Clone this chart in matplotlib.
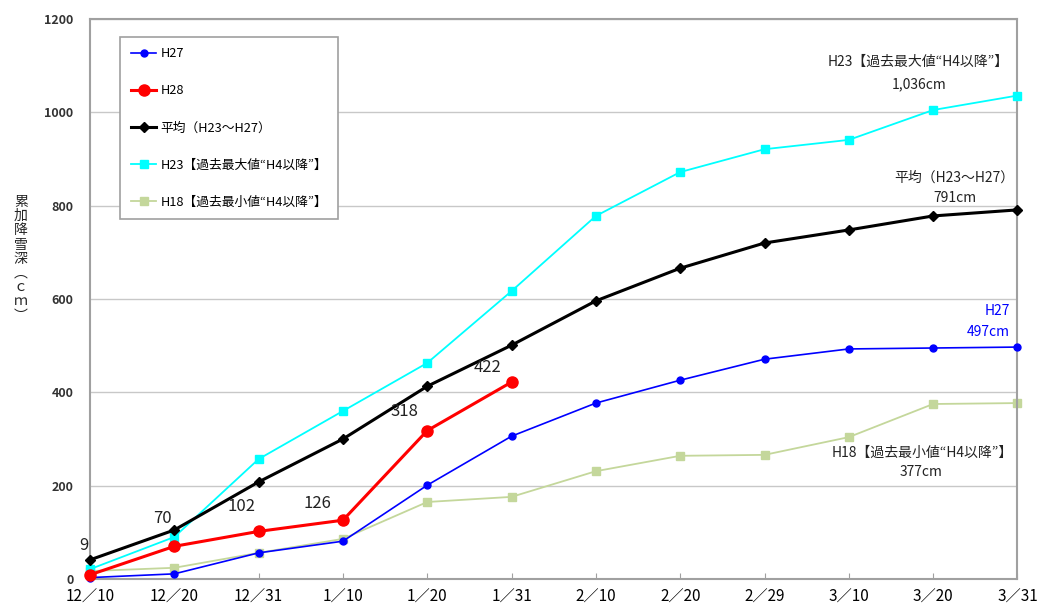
import numpy as np
import matplotlib
matplotlib.use("Agg")
import matplotlib.pyplot as plt

plt.rcParams['font.family'] = ['Noto Sans CJK JP', 'DejaVu Sans']

# 日付（カテゴリ）
dates = ['12／10', '12／20', '12／31', '1／10', '1／20', '1／31',
         '2／10', '2／20', '2／29', '3／10', '3／20', '3／31']

# 累加降雪深 (cm)
h27 = [3, 11, 56, 81, 201, 306, 377, 426, 471, 493, 495, 497]
h28 = [9, 70, 102, 126, 318, 422]
avg = [41, 105, 208, 300, 413, 501, 596, 666, 720, 748, 778, 791]
h23 = [21, 90, 257, 360, 463, 617, 778, 872, 921, 941, 1005, 1036]
h18 = [17, 24, 56, 86, 165, 176, 231, 264, 266, 304, 375, 377]

x = np.arange(len(dates))

fig = plt.figure(figsize=(10.38, 6.04), dpi=100)
ax = fig.add_axes([0.0867, 0.0414, 0.8935, 0.9271])

ax.plot(x, h27, color='#0000FF', lw=1.2, marker='o', ms=5, label='H27', clip_on=False, zorder=4)
ax.plot(x[:len(h28)], h28, color='#FF0000', lw=2.2, marker='o', ms=8, label='H28', clip_on=False, zorder=6)
ax.plot(x, avg, color='black', lw=2.2, marker='D', ms=5, label='平均（H23～H27）', clip_on=False, zorder=5)
ax.plot(x, h23, color='#00FFFF', lw=1.3, marker='s', ms=6, label='H23【過去最大値“H4以降”】', clip_on=False, zorder=3)
ax.plot(x, h18, color='#C4D79B', lw=1.3, marker='s', ms=6, label='H18【過去最小値“H4以降”】', clip_on=False, zorder=2)

# H28 の値ラベル
offsets = [(-6, 29), (-12, 28), (-17, 25), (-25, 17), (-23, 19), (-24, 15)]
for i, v in enumerate(h28):
    ax.annotate(str(v), (x[i], v), xytext=offsets[i], textcoords='offset pixels',
                ha='center', va='center', fontsize=12, color='#222222', zorder=7)

# 右側の注記
note = dict(ha='center', va='center', fontsize=10, color='#222222')
ax.text(9.82, 1108, 'H23【過去最大値“H4以降”】', **note)
ax.text(9.83, 1061, '1,036cm', **note)
ax.text(10.25, 861, '平均（H23～H27）', **note)
ax.text(10.26, 816, '791cm', **note)
ax.text(10.91, 574, 'H27', ha='right', va='center', fontsize=10, color='#0000FF')
ax.text(10.91, 529, '497cm', ha='right', va='center', fontsize=10, color='#0000FF')
ax.text(9.87, 270, 'H18【過去最小値“H4以降”】', **note)
ax.text(9.86, 229, '377cm', **note)

ax.set_xlim(0, 11)
ax.set_ylim(0, 1200)
ax.set_yticks(range(0, 1201, 200))
ax.set_xticks(x)
ax.set_xticklabels(dates, fontsize=11)
ax.tick_params(axis='x', direction='in', length=4, color='#A0A0A0', pad=7)
ax.tick_params(axis='y', length=0, pad=12, labelsize=9)
for lab in ax.get_yticklabels():
    lab.set_fontweight('bold')
    lab.set_color('#333333')
ax.grid(axis='y', color='#C8C8C8', lw=1)
ax.set_axisbelow(True)
for s in ax.spines.values():
    s.set_color('#A0A0A0')
    s.set_linewidth(1.5)

leg = ax.legend(loc='upper left', bbox_to_anchor=(0.0255, 0.98), fontsize=9.2,
                labelspacing=1.88, handlelength=2.0, handletextpad=0.3,
                borderpad=0.85, fancybox=False, framealpha=1, edgecolor='#A0A0A0')
leg.get_frame().set_linewidth(1.2)

# 縦書きの軸ラベル（1文字ずつ配置）
ylabel_chars = '累加降雪深︵ｃｍ︶'
for k, ch in enumerate(ylabel_chars):
    fig.text(0.02, 1 - (202 + k * 14.2) / 604, ch, ha='center', va='center',
             fontsize=10, color='#222222')

fig.savefig('out.png', dpi=100)
